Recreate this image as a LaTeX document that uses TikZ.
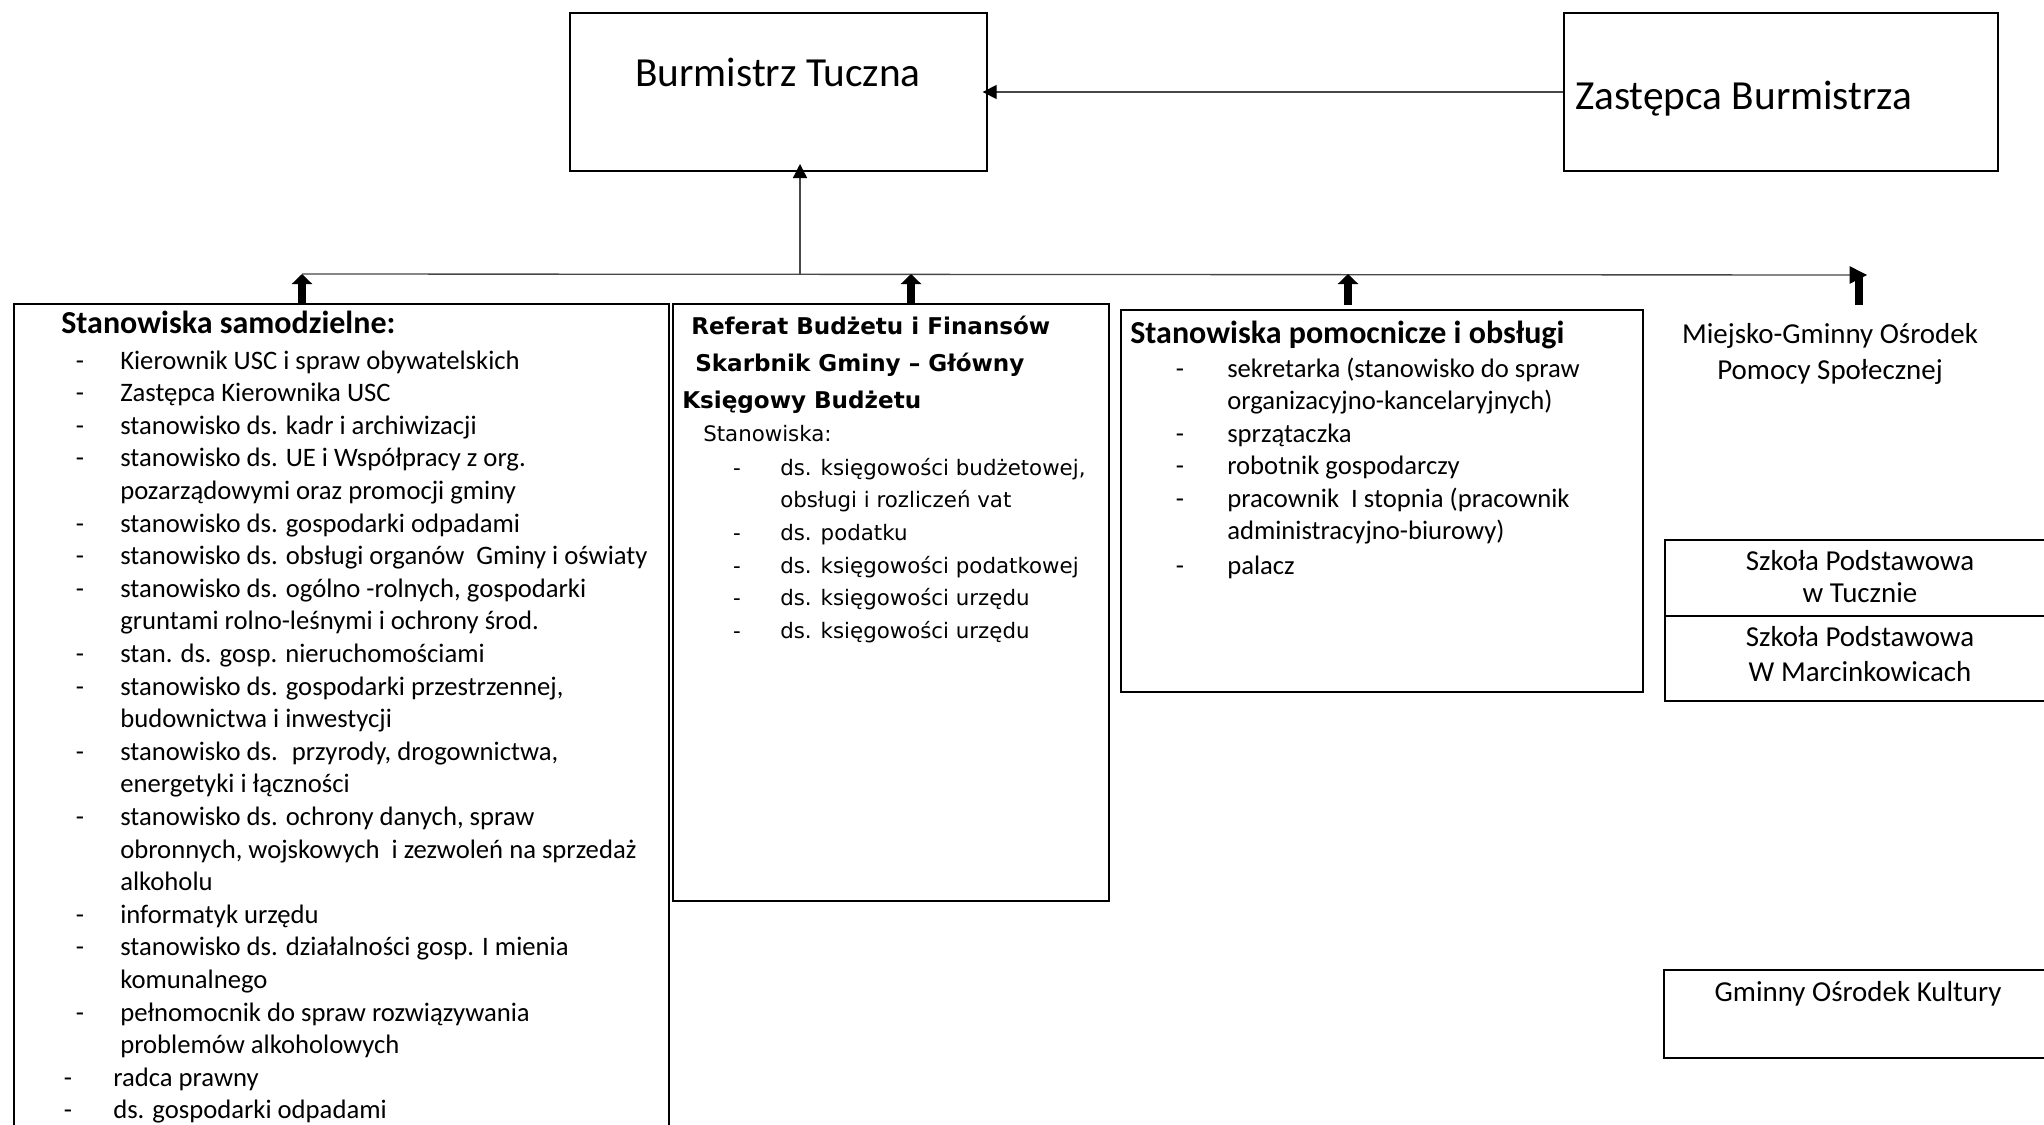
\documentclass[tikz,border=0pt]{standalone}
\usepackage{fontspec}
\setmainfont{Carlito}
\newfontfamily\verd{DejaVu Sans}
\usetikzlibrary{arrows.meta,fit}
\begin{document}
\begin{tikzpicture}[x=0.75pt,y=-0.75pt,
  box/.style={draw, line width=1.5pt, inner sep=0pt},
  conn/.style={draw=black!72, line width=1pt},
  headarrow/.style={conn, -{Triangle[width=10.5pt,length=10.5pt,color=black]}},
  uparrow/.style={draw=black, line width=6.5pt, -{Triangle[width=15pt,length=7.5pt]}},
  body/.style={font=\fontsize{20}{24}\selectfont, inner sep=0pt},
  ttl/.style={font=\fontsize{24}{28}\selectfont\bfseries, inner sep=0pt, anchor=mid west},
  big/.style={font=\fontsize{31}{37}\selectfont, inner sep=0pt},
  rbold/.style={font=\verd\fontsize{17.3}{20}\selectfont\bfseries, inner sep=0pt, anchor=mid west},
  rbody/.style={font=\verd\fontsize{16}{19}\selectfont, inner sep=0pt},
  rcol/.style={font=\fontsize{21.7}{26}\selectfont, inner sep=0pt, anchor=mid}
]
\useasboundingbox (0,0) rectangle (2044,1124);

% top boxes
\node[box, fit={(570,13)(987,171)}] (bur) {};
\node[box, fit={(1564,13)(1998,171)}] (zas) {};
\node[big, anchor=base] (burt) at (778,87) {Burmistrz Tuczna};
\node[big, anchor=base west] (zast) at (1575,109) {Zastępca Burmistrza};
\draw[headarrow, shorten >=-4pt] (zas.west) -- (bur.east);

% bus
\coordinate (bv) at (800,274);
\coordinate (b1) at (302,274);
\coordinate (b2) at (911,274);
\coordinate (b3) at (1348,274);
\coordinate (b4) at (1859,277);
\coordinate (bend) at (1867,275);
\coordinate (s1) at (302,305);
\coordinate (s2) at (911,305);
\coordinate (s3) at (1348,305);
\coordinate (s4) at (1859,305);
\draw[conn, -{Triangle[width=13pt,length=13pt,color=black]}] (b1) -- (bend);
\draw[headarrow, shorten >=-6pt] (bv) -- (bv |- bur.south);
\draw[uparrow] (s1) -- (b1);
\draw[uparrow] (s2) -- (b2);
\draw[uparrow] (s3) -- (b3);
\draw[draw=black, line width=6.5pt] (s4) -- (b4);

% left box
\node[box, fit={(14,304)(669,1140)}] (lbox) {};
\node[ttl] (ltitle) at (61,330) {Stanowiska samodzielne:};
\foreach \dd/\txt [count=\i] in {
1/{Kierownik USC i spraw obywatelskich},
1/{Zastępca Kierownika USC},
1/{stanowisko ds. kadr i archiwizacji},
1/{stanowisko ds. UE i Współpracy z org.},
0/{pozarządowymi oraz promocji gminy},
1/{stanowisko ds. gospodarki odpadami},
1/{stanowisko ds. obsługi organów~ Gminy i oświaty},
1/{stanowisko ds. ogólno -rolnych, gospodarki},
0/{gruntami rolno-leśnymi i ochrony środ.},
1/{stan. ds. gosp. nieruchomościami},
1/{stanowisko ds. gospodarki przestrzennej,},
0/{budownictwa i inwestycji},
1/{stanowisko ds.~ przyrody, drogownictwa,},
0/{energetyki i łączności},
1/{stanowisko ds. ochrony danych, spraw},
0/{obronnych, wojskowych~ i zezwoleń na sprzedaż},
0/{alkoholu},
1/{informatyk urzędu},
1/{stanowisko ds. działalności gosp. I mienia},
0/{komunalnego},
1/{pełnomocnik do spraw rozwiązywania},
0/{problemów alkoholowych},
2/{radca prawny},
2/{ds. gospodarki odpadami}}
{
  \pgfmathsetmacro\yy{366+32.6*(\i-1)}
  \ifnum\dd=2
    \node[body, anchor=mid] (ld\i) at (68,\yy) {-};
    \node[body, anchor=mid west] (l\i) at (113,\yy) {\txt};
  \else
    \ifnum\dd=1 \node[body, anchor=mid] (ld\i) at (80,\yy) {-};\fi
    \node[body, anchor=mid west] (l\i) at (120,\yy) {\txt};
  \fi
}

% referat box
\node[box, fit={(673,304)(1109,901)}] (rbox) {};
\node[rbold] (r1) at (691,331) {Referat Budżetu i Finansów};
\node[rbold] (r2) at (695,368) {Skarbnik Gminy – Główny};
\node[rbold] (r3) at (682,405) {Księgowy Budżetu};
\node[rbody, anchor=mid west] (r4) at (703,438) {Stanowiska:};
\foreach \dd/\yy/\txt [count=\i] in {
1/472/{ds. księgowości budżetowej,},
0/504.5/{obsługi i rozliczeń vat},
1/537/{ds. podatku},
1/570/{ds. księgowości podatkowej},
1/602.5/{ds. księgowości urzędu},
1/635/{ds. księgowości urzędu}}
{
  \ifnum\dd=1 \node[rbody, anchor=mid] (rd\i) at (737,\yy) {-};\fi
  \node[rbody, anchor=mid west] (ri\i) at (780,\yy) {\txt};
}

% third box
\node[box, fit={(1121,310)(1643,692)}] (pbox) {};
\node[ttl] (ptitle) at (1130,340) {Stanowiska pomocnicze i obsługi};
\foreach \dd/\yy/\txt [count=\i] in {
1/374/{sekretarka (stanowisko do spraw},
0/406.5/{organizacyjno-kancelaryjnych)},
1/439/{sprzątaczka},
1/471.5/{robotnik gospodarczy},
1/504/{pracownik~ I stopnia (pracownik},
0/536.5/{administracyjno-biurowy)},
1/571/{palacz}}
{
  \ifnum\dd=1 \node[body, anchor=mid] (pd\i) at (1180,\yy) {-};\fi
  \node[body, anchor=mid west] (pi\i) at (1227,\yy) {\txt};
}

% right column
\node[rcol] (m1) at (1830,340) {Miejsko-Gminny Ośrodek};
\node[rcol] (m2) at (1830,376) {Pomocy Społecznej};
\node[box, fit={(1665,540)(2060,701)}] (sbox) {};
\coordinate (sdiv) at (1665,616);
\draw[line width=1.5pt] (sdiv) -- (sdiv -| sbox.east);
\node[rcol] (s1t) at (1860,567) {Szkoła Podstawowa};
\node[rcol] (s2t) at (1860,599) {w Tucznie};
\node[rcol] (s3t) at (1860,643) {Szkoła Podstawowa};
\node[rcol] (s4t) at (1860,678) {W Marcinkowicach};
\node[box, fit={(1664,970)(2060,1058)}] (gbox) {};
\node[rcol] (gt) at (1858,998) {Gminny Ośrodek Kultury};
\end{tikzpicture}
\end{document}
